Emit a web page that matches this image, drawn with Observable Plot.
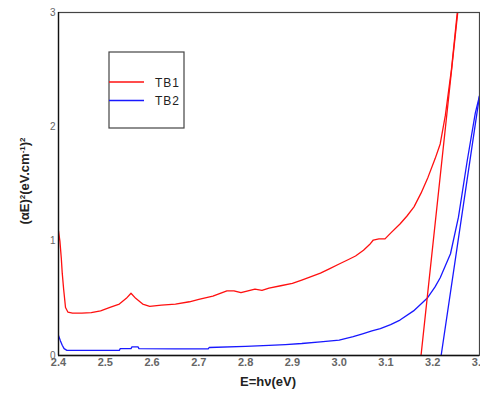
<!DOCTYPE html>
<html><head><meta charset="utf-8">
<script src="https://cdn.jsdelivr.net/npm/d3@7"></script>
<script src="https://cdn.jsdelivr.net/npm/@observablehq/plot@0.6"></script>
<style>body{margin:0;background:#fff}</style>
</head><body><div id="chart"></div>
<script>
const tb1E = [2.400,2.403,2.406,2.408,2.411,2.415,2.420,2.430,2.450,2.470,2.490,2.510,2.530,2.545,2.555,2.565,2.580,2.595,2.620,2.650,2.680,2.700,2.730,2.760,2.775,2.790,2.820,2.835,2.850,2.875,2.900,2.920,2.940,2.960,2.980,3.000,3.020,3.035,3.052,3.065,3.073,3.085,3.098,3.110,3.130,3.145,3.160,3.175,3.190,3.205,3.216,3.227,3.240,3.253];
const tb1V = [1.09,1.00,0.85,0.72,0.58,0.42,0.38,0.37,0.37,0.375,0.39,0.42,0.45,0.50,0.545,0.50,0.45,0.43,0.44,0.45,0.47,0.49,0.52,0.565,0.565,0.55,0.58,0.57,0.59,0.61,0.63,0.66,0.69,0.72,0.76,0.80,0.84,0.87,0.92,0.97,1.01,1.02,1.02,1.07,1.15,1.22,1.30,1.42,1.56,1.72,1.85,2.10,2.50,3.02];
const tb2E = [2.400,2.404,2.408,2.412,2.418,2.430,2.500,2.530,2.532,2.555,2.557,2.570,2.572,2.650,2.720,2.722,2.800,2.850,2.885,2.920,2.960,3.000,3.030,3.050,3.070,3.088,3.110,3.130,3.159,3.188,3.205,3.216,3.238,3.255,3.274,3.291,3.300];
const tb2V = [0.175,0.13,0.09,0.06,0.045,0.045,0.045,0.045,0.06,0.06,0.075,0.075,0.06,0.058,0.058,0.07,0.08,0.088,0.096,0.105,0.12,0.135,0.165,0.19,0.215,0.235,0.27,0.31,0.39,0.50,0.60,0.68,0.89,1.21,1.71,2.12,2.27];
const tb1FitE = [3.175, 3.254];
const tb1FitV = [0, 3.02];
const tb2FitE = [3.218, 3.300];
const tb2FitV = [0, 2.27];
const xTicks = [2.4,2.5,2.6,2.7,2.8,2.9,3.0,3.1,3.2,3.3];
const yTicks = [0,1,2,3];
const seriesNames = ["TB1","TB2"];
const seriesColors = ["#ff1010","#1818ff"];

const toRows = (xs, ys) => xs.map((x,i)=>({x, y: ys[i]}));
const FONT = "'Liberation Sans', Arial, sans-serif";

const W = 480, H = 394;
const plot = Plot.plot({
  width: W, height: H,
  marginLeft: 58, marginRight: 1, marginTop: 12, marginBottom: 39,
  style: {fontFamily: FONT, background: "#fff"},
  x: {domain: [2.4, 3.3], ticks: xTicks, tickFormat: d3.format(".1f"), tickSize: 0, tickPadding: 3, label: null},
  y: {domain: [0, 3], ticks: yTicks, tickFormat: d3.format("d"), tickSize: 0, tickPadding: 3, label: null},
  marks: [
    Plot.line(toRows(tb1E, tb1V), {x: "x", y: "y", stroke: seriesColors[0], strokeWidth: 1.3, clip: true}),
    Plot.line(toRows(tb2E, tb2V), {x: "x", y: "y", stroke: seriesColors[1], strokeWidth: 1.3, clip: true}),
    Plot.line(toRows(tb1FitE, tb1FitV), {x: "x", y: "y", stroke: seriesColors[0], strokeWidth: 1.3, clip: true}),
    Plot.line(toRows(tb2FitE, tb2FitV), {x: "x", y: "y", stroke: seriesColors[1], strokeWidth: 1.3, clip: true}),
    Plot.frame({stroke: "#444", strokeWidth: 1.2}),
    Plot.ruleX([2.4], {stroke: "#111", strokeWidth: 1.3}),
    Plot.ruleY([0], {stroke: "#111", strokeWidth: 1.3})
  ]
});
document.getElementById("chart").appendChild(plot);

const svg = d3.select(plot);
svg.selectAll("g[aria-label='x-axis tick label'] text").attr("font-size", 11).attr("font-weight", "bold");
svg.selectAll("g[aria-label='y-axis tick label'] text").attr("font-size", 10);
svg.selectAll("g[aria-label='x-axis tick label'], g[aria-label='y-axis tick label']").attr("fill", "#666");

// axis titles
svg.append("text").attr("x", 268).attr("y", 386).attr("text-anchor", "middle")
  .attr("font-family", FONT).attr("font-weight", "bold").attr("font-size", 13).attr("fill", "#222")
  .text("E=hν(eV)");
const yt = svg.append("text").attr("transform", "translate(29,181) rotate(-90)").attr("text-anchor", "middle")
  .attr("font-family", FONT).attr("font-weight", "bold").attr("font-size", 13).attr("fill", "#222");
[["(αE)", null], ["2", "sup"], ["(eV.cm", null], ["-1", "sup"], [")", null], ["2", "sup"]].forEach(([t, k]) => {
  const s = yt.append("tspan").text(t);
  if (k) s.attr("font-size", 8).attr("baseline-shift", "55%");
});

// legend
const lg = svg.append("g").attr("text-anchor", "start");
lg.append("rect").attr("x", 109).attr("y", 52).attr("width", 75).attr("height", 76)
  .attr("fill", "#fff").attr("stroke", "#444").attr("stroke-width", 1.2);
seriesNames.forEach((name, i) => {
  const yy = 82 + i * 18.5;
  lg.append("line").attr("x1", 109).attr("x2", 144).attr("y1", yy).attr("y2", yy)
    .attr("stroke", seriesColors[i]).attr("stroke-width", 1.3);
  lg.append("text").attr("x", 155).attr("y", yy + 4.5).attr("text-anchor", "start")
    .attr("font-family", FONT).attr("font-size", 12).attr("letter-spacing", 1).attr("fill", "#222")
    .text(name);
});
</script>
</body></html>
